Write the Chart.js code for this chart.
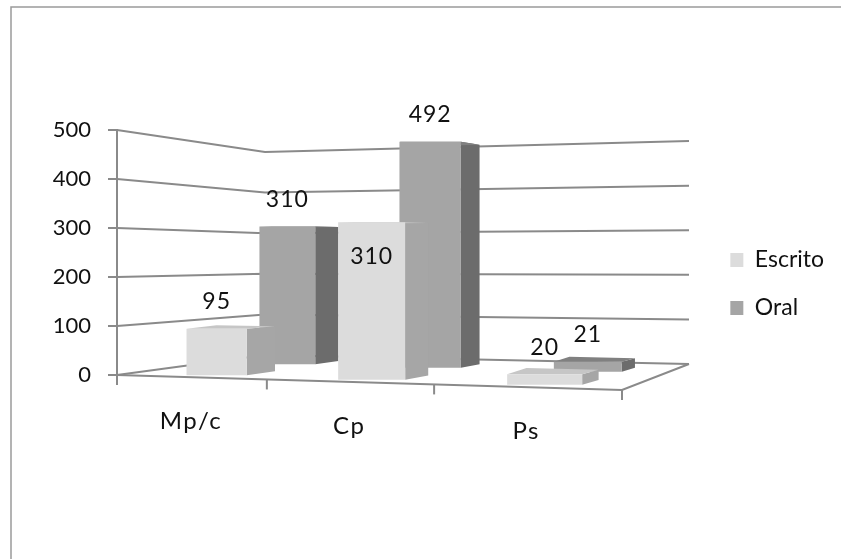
<!DOCTYPE html>
<html>
<head>
<meta charset="utf-8">
<style>html,body{margin:0;padding:0;background:#fff}canvas{display:block}</style>
<script src="https://cdn.jsdelivr.net/npm/chart.js@4"></script>
</head>
<body>
<canvas id="c" width="841" height="559"></canvas>
<script>
const categories = ["Mp/c", "Cp", "Ps"];
const escrito = [95, 310, 20];
const oral = [310, 492, 21];
const yTicks = [0, 100, 200, 300, 400, 500];
const labelInside = [[false, true, false], [false, false, false]];

const FONT = "Lato, 'Open Sans', sans-serif";
const TEXT = "#111111", LINE = "#8a8a8a";
/* floor corners of the 3D box on screen */
const FL = [117, 375], FR = [622, 390], BL = [265, 355], BR = [689, 364];
/* depth rows of each series on the floor */
const ROWS = [{v0: .10, v1: .29}, {v0: .59, v1: .78}];
const U_SHIFT = .024, U_SCALE = .99;
/* how height shrinks along the floor */
const H_U = -.108, H_V = .207;
const SHADES = [
  {front: "#dcdcdc", side: "#a6a6a6", top: "#c6c6c6"},
  {front: "#a5a5a5", side: "#6c6c6c", top: "#808080"}
];

function makeProjector(yScale) {
  const dx1 = FR[0]-BR[0], dx2 = BL[0]-BR[0], sx = FL[0]-FR[0]+BR[0]-BL[0];
  const dy1 = FR[1]-BR[1], dy2 = BL[1]-BR[1], sy = FL[1]-FR[1]+BR[1]-BL[1];
  const det = dx1*dy2 - dx2*dy1;
  const g = (sx*dy2 - dx2*sy)/det, h = (dx1*sy - sx*dy1)/det;
  const a = FR[0]*(1+g)-FL[0], b = BL[0]*(1+h)-FL[0];
  const d = FR[1]*(1+g)-FL[1], e = BL[1]*(1+h)-FL[1];
  const zero = yScale.getPixelForValue(0);
  return (u, v, val) => {
    const w = 1 + g*u + h*v;
    const lift = (zero - yScale.getPixelForValue(val)) / (1 + H_U*u + H_V*v);
    return {x: (a*u + b*v + FL[0])/w, y: (d*u + e*v + FL[1])/w - lift};
  };
}
function poly(ctx, pts, fill) {
  ctx.beginPath();
  pts.forEach((p, i) => i ? ctx.lineTo(p.x, p.y) : ctx.moveTo(p.x, p.y));
  ctx.closePath();
  ctx.fillStyle = fill;
  ctx.fill();
}
function polyline(ctx, pts) {
  ctx.beginPath();
  pts.forEach((p, i) => i ? ctx.lineTo(p.x, p.y) : ctx.moveTo(p.x, p.y));
  ctx.stroke();
}

const box3d = {
  id: "box3d",
  afterDatasetsUpdate(chart) {
    const area = chart.chartArea, P = makeProjector(chart.scales.y);
    chart._boxes = [];
    chart.data.datasets.forEach((ds, di) => {
      const row = ROWS[di];
      chart._boxes[di] = chart.getDatasetMeta(di).data.map((el, i) => {
        const u0 = (el.x - el.width/2 - area.left)/area.width*U_SCALE + U_SHIFT;
        const u1 = (el.x + el.width/2 - area.left)/area.width*U_SCALE + U_SHIFT;
        const val = ds.data[i];
        const bl = P(u0, row.v0, 0), br = P(u1, row.v0, 0);
        const tl = P(u0, row.v0, val), tr = P(u1, row.v0, val);
        const base = (bl.y + 2*br.y)/3;
        const top = base - ((bl.y - tl.y) + (br.y - tr.y))/2;
        el.x = (bl.x + br.x)/2;
        el.width = br.x - bl.x;
        el.base = base;
        el.y = top;
        return {
          bl: {x: bl.x, y: base}, br: {x: br.x, y: base},
          tl: {x: tl.x, y: top}, tr: {x: tr.x, y: top},
          bk: P(u1, row.v1, 0), tk: P(u1, row.v1, val), tk0: P(u0, row.v1, val)
        };
      });
    });
  },
  beforeDatasetsDraw(chart) {
    const ctx = chart.ctx, P = makeProjector(chart.scales.y);
    ctx.save();
    ctx.strokeStyle = LINE; ctx.lineWidth = 2;
    yTicks.forEach(t => polyline(ctx, [P(0,0,t), P(0,1,t), P(1,1,t)]));
    polyline(ctx, [P(0,0,0), P(1,0,0), P(1,1,0)]);
    const n = categories.length;
    for (let i = 0; i <= n; i++) {
      const p = P(i/n, 0, 0);
      polyline(ctx, [p, {x: p.x, y: p.y + 10}]);
    }
    ctx.restore();
  },
  beforeDatasetDraw(chart, args) {
    const ctx = chart.ctx, s = SHADES[args.index];
    chart._boxes[args.index].forEach(f => {
      poly(ctx, [f.br, f.bk, f.tk, f.tr], s.side);
      poly(ctx, [f.tl, f.tr, f.tk, f.tk0], s.top);
    });
  },
  afterDatasetsDraw(chart) {
    const ctx = chart.ctx, P = makeProjector(chart.scales.y);
    ctx.save();
    ctx.fillStyle = TEXT;
    ctx.textAlign = "center"; ctx.textBaseline = "middle";
    ctx.font = "23px " + FONT;
    ctx.letterSpacing = "1px";
    chart.data.datasets.forEach((ds, di) => {
      chart.getDatasetMeta(di).data.forEach((el, i) => {
        const off = labelInside[di][i] ? 34 : -27;
        ctx.fillText(String(ds.data[i]), el.x, el.y + off);
      });
    });
    ctx.font = "24px " + FONT;
    ctx.letterSpacing = "1.5px";
    const n = categories.length;
    categories.forEach((c, i) => {
      const p = P((i + .5)/n, 0, 0);
      ctx.fillText(c, p.x + 1, p.y + 44);
    });
    ctx.restore();
  },
  beforeDraw(chart) {
    const ctx = chart.ctx;
    ctx.save();
    ctx.strokeStyle = "#9a9a9a"; ctx.lineWidth = 1.5;
    polyline(ctx, [{x: 11, y: chart.height}, {x: 11, y: 7}, {x: chart.width, y: 7}]);
    ctx.restore();
  }
};

new Chart(document.getElementById("c"), {
  type: "bar",
  data: {
    labels: categories,
    datasets: [
      {label: "Escrito", data: escrito, backgroundColor: SHADES[0].front, clip: false},
      {label: "Oral", data: oral, backgroundColor: SHADES[1].front, clip: false}
    ]
  },
  plugins: [box3d],
  options: {
    responsive: false,
    animation: false,
    events: [],
    datasets: {bar: {grouped: false, barPercentage: .41, categoryPercentage: 1}},
    layout: {padding: {top: 130, bottom: 121, left: 0, right: 7}},
    plugins: {
      tooltip: {enabled: false},
      legend: {
        position: "right",
        labels: {
          boxWidth: 13, boxHeight: 14, padding: 25,
          color: TEXT, font: {family: FONT, size: 23}
        }
      }
    },
    scales: {
      x: {
        grid: {display: false}, border: {display: false},
        ticks: {display: false},
        afterFit(s) { s.height = 63; }
      },
      y: {
        min: 0, max: 500,
        afterFit(s) { s.width = 117; },
        afterBuildTicks(s) { s.ticks = yTicks.map(v => ({value: v})); },
        grid: {drawOnChartArea: false, color: LINE, lineWidth: 2, tickLength: 9},
        border: {display: true, color: LINE, width: 2},
        ticks: {color: TEXT, font: {family: FONT, size: 22}, padding: 17}
      },
      gap: {
        position: "right", display: true,
        grid: {display: false}, border: {display: false},
        ticks: {display: false},
        afterFit(s) { s.width = 95; }
      }
    }
  }
});
</script>
</body>
</html>
